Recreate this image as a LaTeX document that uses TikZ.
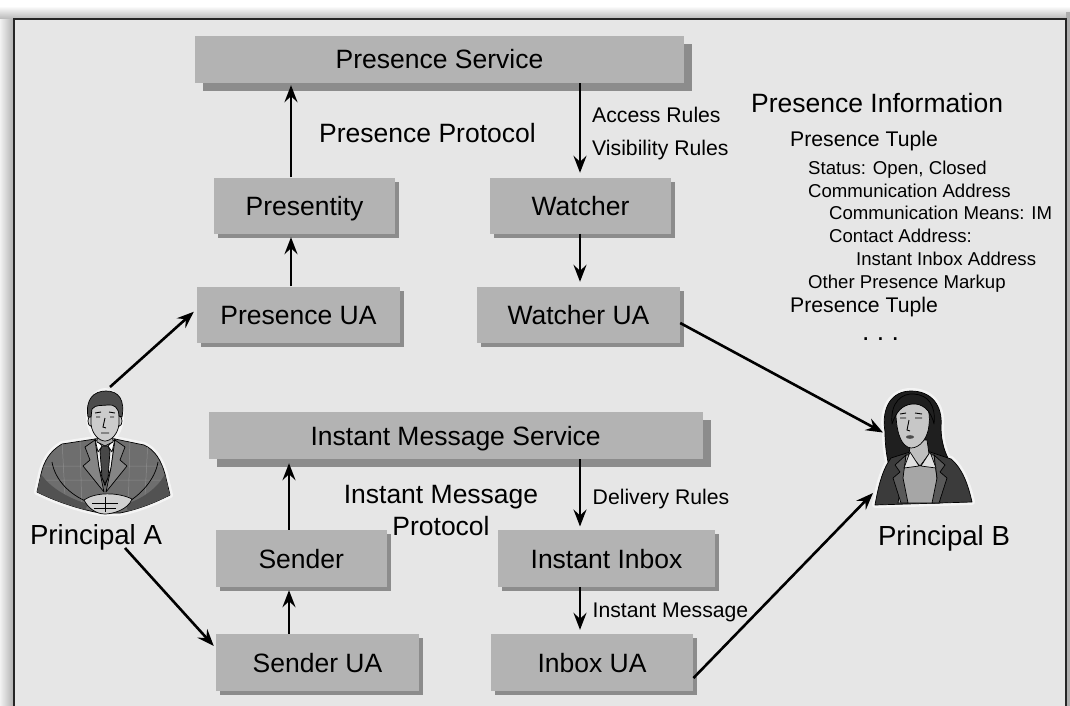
\documentclass[tikz,border=0pt]{standalone}
\usepackage{fontspec}
\setmainfont{Liberation Sans}
\usetikzlibrary{arrows.meta,shadows}
\definecolor{bg}{HTML}{E6E6E6}
\definecolor{boxgray}{HTML}{B3B3B3}
\definecolor{shadowgray}{HTML}{8C8C8C}
\definecolor{halo}{HTML}{F4F4F4}

% silhouettes of the two principals (used for halo and fill)
\newcommand{\pathManBody}{(95,439) -- (62,444) .. controls (50,451) and (44,461) .. (41,474) -- (37,492) .. controls (55,501) and (78,509) .. (100,513) -- (120,513) .. controls (140,509) and (156,502) .. (170,495) -- (165,474) .. controls (161,460) and (155,450) .. (144,445) -- (115,439) -- cycle}
\newcommand{\pathWomanHair}{(885,432) .. controls (881,407) and (892,391) .. (911,391) .. controls (931,391) and (943,405) .. (941,427) .. controls (941,442) and (945,453) .. (950,462) -- (888,462) .. controls (886,452) and (885,442) .. (885,432) -- cycle}
\newcommand{\pathWomanBody}{(891,458) .. controls (882,470) and (878,488) .. (875,505) -- (972,502) .. controls (968,484) and (962,468) .. (951,459) -- (930,452) -- (910,452) -- cycle}

\begin{document}
\begin{tikzpicture}[x=1pt,y=-1pt,
  big/.style={font=\fontsize{26.5}{30}\selectfont, inner sep=0pt, text height=19pt, text depth=0pt},
  mid/.style={font=\fontsize{21.2}{25}\selectfont, inner sep=0pt, text height=15.2pt, text depth=0pt},
  smalltext/.style={font=\fontsize{18.6}{22}\selectfont, inner sep=0pt, text height=13.3pt, text depth=0pt},
  princ/.style={font=\fontsize{27.6}{32}\selectfont, inner sep=0pt, text height=19.8pt, text depth=0pt},
  box/.style={big, fill=boxgray, drop shadow={shadow xshift=#1, shadow yshift=-#1, fill=shadowgray, opacity=1}},
  box/.default=4pt,
  arr/.style={line width=2.6pt, -{Stealth[length=17pt,width=13pt,inset=6pt]}},
  outline/.style={draw=black, line width=0.7pt, line join=round},
  haloline/.style={draw=halo, line width=6pt, line join=round}
]
\useasboundingbox (0,0) rectangle (1070,706);
\clip (0,0) rectangle (1070,706);

% window background with soft shadow around the frame
\fill[white] (0,0) rectangle (1070,706);
\shade[top color=white, bottom color=black!30] (0,6) rectangle (1070,20);
\shade[left color=white!95!black, right color=black!32] (0,20) rectangle (14,706);
\fill[black!32] (1066,12) rectangle (1070,706);
\draw[black!85, line width=2pt, fill=bg] (14,19.5) rectangle (1065.5,730);

% presence side
\node[box=8pt, minimum width=489pt, minimum height=47pt] (ps) at (439.5,59.5) {Presence Service};
\node[box, minimum width=181pt, minimum height=56pt] (prs) at (304.5,205.5) {Presentity};
\node[box, minimum width=203pt, minimum height=56.5pt] (pua) at (298.5,314.75) {Presence UA};
\node[box, minimum width=181pt, minimum height=56pt] (wat) at (580.5,205.5) {Watcher};
\node[box, minimum width=203pt, minimum height=56.5pt] (wua) at (578.5,314.75) {Watcher UA};

% instant message side
\node[box=8pt, minimum width=494pt, minimum height=47pt] (ims) at (455.65,435.5) {Instant Message Service};
\node[box, minimum width=170.5pt, minimum height=57pt] (snd) at (301.25,558.5) {Sender};
\node[box, minimum width=217pt, minimum height=57pt] (inb) at (606.5,558.5) {Instant Inbox};
\node[box, minimum width=203pt, minimum height=57pt] (sua) at (317.5,662.5) {Sender UA};
\node[box, minimum width=202.5pt, minimum height=57pt] (iua) at (592,662.5) {Inbox UA};

% labels
\node[big] (pp) at (427.5,133) {Presence Protocol};
\node[mid, anchor=west] (acc) at (592,115) {Access Rules};
\node[mid, anchor=west] (vis) at (592,147.5) {Visibility Rules};
\node[big] (imp1) at (441,494) {Instant Message};
\node[big] (imp2) at (441,526) {Protocol};
\node[mid, anchor=west] (del) at (592.5,497) {Delivery Rules};
\node[mid, anchor=west] (imm) at (592.5,610) {Instant Message};

% presence information outline
\node[big, anchor=west] (pi) at (751,103) {Presence Information};
\node[mid, anchor=west] (pt1) at (790,139) {Presence Tuple};
\node[smalltext, anchor=west] (st) at (808,168.3) {Status: Open, Closed};
\node[smalltext, anchor=west] (ca) at (808,190.7) {Communication Address};
\node[smalltext, anchor=west] (cm) at (829,213.3) {Communication Means: IM};
\node[smalltext, anchor=west] (cta) at (829,235.7) {Contact Address:};
\node[smalltext, anchor=west] (iia) at (856,259) {Instant Inbox Address};
\node[smalltext, anchor=west] (opm) at (808,281.7) {Other Presence Markup};
\node[mid, anchor=west] (pt2) at (790,305) {Presence Tuple};
\node[big, anchor=west] (dots) at (862,330.5) {.\ .\ .};

% principal names
\node[princ] (pa) at (96,535) {Principal A};
\node[princ] (pb) at (944,536) {Principal B};

% ---------- Principal A ----------
\draw[haloline] \pathManBody;
\fill[halo] (105,416) ellipse [x radius=19, y radius=28];
\filldraw[fill=black!57, outline] \pathManBody;
\begin{scope}
  \clip \pathManBody;
  \draw[black!45, line width=0.5pt] (40,480) -- (170,480) (40,466) -- (170,466)
    (62,440) -- (66,515) (80,440) -- (82,515) (130,440) -- (128,515) (148,440) -- (144,515);
  \fill[black!68] (41,474) .. controls (50,488) and (70,499) .. (88,504) -- (84,512) .. controls (65,508) and (48,500) .. (37,492) -- cycle;
  \fill[black!68] (165,474) .. controls (158,488) and (142,499) .. (126,504) -- (128,512) .. controls (145,508) and (160,500) .. (170,495) -- cycle;
\end{scope}
\draw[black, line width=0.7pt] (52,462) .. controls (55,480) and (70,495) .. (88,502)
  (158,462) .. controls (155,480) and (140,495) .. (128,502);
\filldraw[fill=black!6, outline] (95,439) -- (115,439) -- (111,468) -- (105,486) -- (99,468) -- cycle;
\filldraw[fill=black!48, outline] (95,440) -- (85,447) -- (90,460) -- (83,466) -- (104,492) -- (99,468) -- cycle;
\filldraw[fill=black!48, outline] (115,440) -- (125,447) -- (120,460) -- (127,466) -- (106,492) -- (111,468) -- cycle;
\filldraw[fill=black!72, outline] (102,446) -- (108,446) -- (110,451) -- (108,478) -- (105,484) -- (102,478) -- (100,451) -- cycle;
\filldraw[fill=white, outline] (95,439) -- (102,446) -- (98,452) -- cycle;
\filldraw[fill=white, outline] (115,439) -- (108,446) -- (112,452) -- cycle;
\filldraw[fill=black!18, outline] (84,500) .. controls (95,492) and (118,492) .. (132,499) .. controls (128,510) and (112,514) .. (105,514) .. controls (96,514) and (88,508) .. (84,500) -- cycle;
\draw[black, line width=0.5pt] (92,503) -- (118,503) (94,508) -- (116,508) (105,497) -- (105,512);
\filldraw[fill=black!32, outline] (98,428) -- (112,428) -- (113,442) -- (105,446) -- (97,442) -- cycle;
\filldraw[fill=black!20, outline] (90.5,421) ellipse [x radius=2.5, y radius=5];
\filldraw[fill=black!20, outline] (119.5,421) ellipse [x radius=2.5, y radius=5];
\filldraw[fill=black!20, outline] (91,410) -- (91,424) .. controls (92,434) and (99,441) .. (105,441) .. controls (111,441) and (118,434) .. (119,424) -- (119,410) .. controls (118,400) and (92,400) .. (91,410) -- cycle;
\filldraw[fill=black!70, outline] (88,417) .. controls (85,399) and (94,391) .. (106,391) .. controls (119,391) and (125,400) .. (122,417) -- (119,416) .. controls (119,408) and (114,404) .. (108,405) .. controls (102,406) and (96,404) .. (92,409) -- (91,417) -- cycle;
\draw[black, line width=0.9pt] (95,413) -- (101,412) (109,412) -- (115,413)
  (96,417) -- (100,417) (110,417) -- (114,417)
  (105,418) -- (103,427) -- (106,428) (101,433) -- (109,433);

% ---------- Principal B ----------
\draw[haloline] \pathWomanHair;
\draw[haloline] \pathWomanBody;
\filldraw[fill=black!88, outline] \pathWomanHair;
\filldraw[fill=black!77, outline] \pathWomanBody;
\filldraw[fill=black!35, outline] (906,455) -- (934,455) -- (940,503) -- (898,503) -- cycle;
\filldraw[fill=black!65, outline] (906,455) -- (895,465) -- (900,472) -- (893,478) -- (901,503) -- (908,503) -- (903,478) -- cycle;
\filldraw[fill=black!65, outline] (934,455) -- (945,465) -- (940,472) -- (947,478) -- (939,503) -- (932,503) -- (937,478) -- cycle;
\filldraw[fill=black!25, outline] (911,440) -- (927,440) -- (929,454) -- (920,466) -- (909,454) -- cycle;
\filldraw[fill=black!12, outline] (910,452) -- (919,466) -- (904,468) -- cycle;
\filldraw[fill=black!12, outline] (930,452) -- (921,466) -- (936,468) -- cycle;
\filldraw[fill=black!22, outline] (896,416) .. controls (896,403) and (905,398) .. (914,399) .. controls (926,400) and (931,410) .. (929,425) .. controls (928,438) and (920,448) .. (911,448) .. controls (902,447) and (897,435) .. (896,416) -- cycle;
\filldraw[fill=black!88, outline] (892,424) .. controls (890,402) and (902,393) .. (914,394) .. controls (928,395) and (936,405) .. (934,424) .. controls (931,410) and (922,403) .. (912,404) .. controls (902,405) and (896,412) .. (892,424) -- cycle;
\draw[black, line width=0.9pt] (900,414) -- (906,413) (915,413) -- (922,414)
  (900,418) -- (906,418) (915,418) -- (922,418) (909,420) -- (907,430) -- (910,431);
\fill[black!70] (910,437) ellipse [x radius=4, y radius=1.8];

% anchor points on the principals
\coordinate (a1) at (110,387);
\coordinate (a2) at (125,548);
\coordinate (b1) at (883,432.5);
\coordinate (b2) at (873,493);
\coordinate (xl) at (291,0);
\coordinate (xl2) at (289,0);
\coordinate (xr) at (580,0);

% connectors
\draw[arr, shorten >=3.5pt] (pua.north -| xl) -- (prs.south -| xl);
\draw[arr, shorten >=2pt] (prs.north -| xl) -- (ps.south -| xl);
\draw[arr, shorten >=4.5pt] (ps.south -| xr) -- (wat.north -| xr);
\draw[arr, shorten >=4.5pt] (wat.south -| xr) -- (wua.north -| xr);
\draw[arr, shorten >=3pt] (sua.north -| xl2) -- (snd.south -| xl2);
\draw[arr, shorten >=4pt] (snd.north -| xl2) -- (ims.south -| xl2);
\draw[arr, shorten >=3.3pt] (ims.south -| xr) -- (inb.north -| xr);
\draw[arr, shorten >=4pt] (inb.south -| xr) -- (iua.north -| xr);
\draw[arr] (a1) -- ([xshift=-3pt,yshift=3pt]pua.west);
\draw[arr] (a2) -- ([xshift=-2pt,yshift=16.5pt]sua.west);
\draw[arr] ([yshift=-8.25pt]wua.east) -- (b1);
\draw[arr] ([yshift=-15.5pt]iua.east) -- (b2);
\end{tikzpicture}
\end{document}
